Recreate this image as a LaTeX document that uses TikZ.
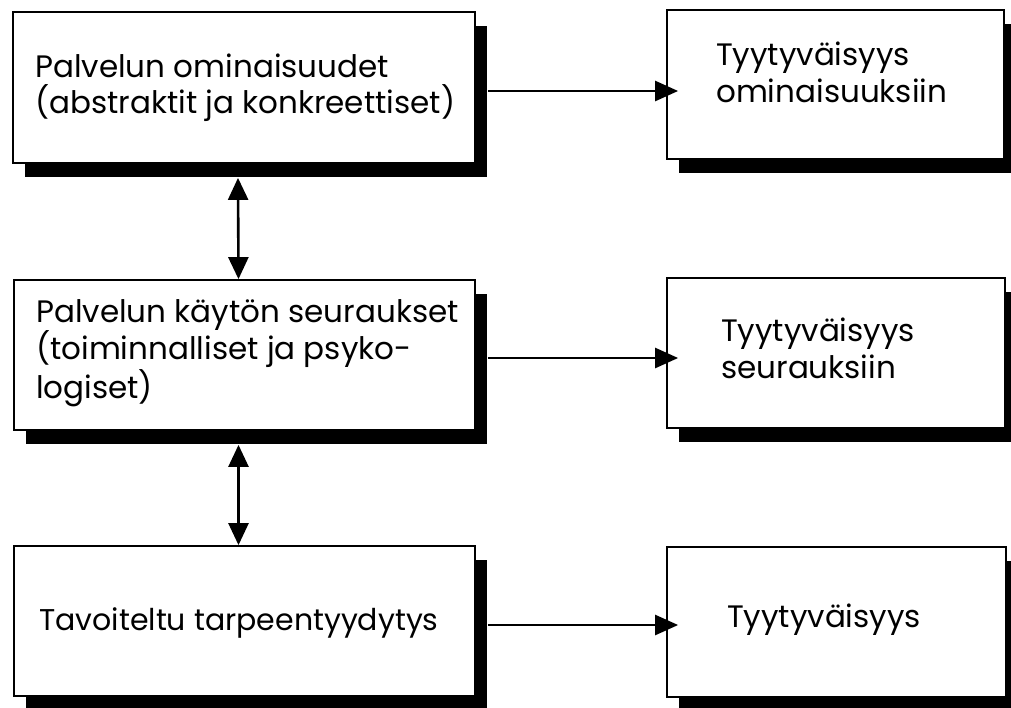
\documentclass[tikz,border=0pt]{standalone}
\usepackage{fontspec}
\setmainfont{Poppins}
\usetikzlibrary{arrows.meta,shadows}
\begin{document}
\begin{tikzpicture}[x=1pt,y=-1pt,
  box/.style={draw=black, line width=1.8pt, fill=white, rectangle, inner sep=0pt,
    drop shadow={shadow xshift=12pt, shadow yshift=-14pt, opacity=1, fill=black}},
  txt/.style={align=left, inner sep=0pt, anchor=base west, font=\fontsize{31}{36.5}\selectfont},
  arr/.style={line width=2.6pt, -{Triangle[length=23pt,width=20pt]}},
  darr/.style={line width=2.6pt, {Triangle[length=22pt,width=20pt]}-{Triangle[length=22pt,width=20pt]}}]
\useasboundingbox (0,0) rectangle (1011,707);
\fill[white] (0,0) rectangle (1011,707);
% boxes
\node[box, minimum width=462pt, minimum height=151pt] (A) at (244,87.5) {};
\node[box, minimum width=337pt, minimum height=149pt] (B) at (835.5,84.5) {};
\node[box, minimum width=461pt, minimum height=150pt] (C) at (244.5,355) {};
\node[box, minimum width=338pt, minimum height=150pt] (D) at (836,353) {};
\node[box, minimum width=461pt, minimum height=150pt] (E) at (244.5,621) {};
\node[box, minimum width=339pt, minimum height=150pt] (F) at (836.5,622) {};
% texts (anchor = baseline of the last line)
\node[txt] (At) at (35,113.5) {Palvelun ominaisuudet\\(abstraktit ja konkreettiset)};
\node[txt] (Bt) at (716,102) {Tyytyväisyys\\ominaisuuksiin};
\node[txt] (Ct) at (36,398) {Palvelun käytön seuraukset\\(toiminnalliset ja psyko-\\logiset)};
\node[txt] (Dt) at (721,378) {Tyytyväisyys\\seurauksiin};
\node[txt, font=\fontsize{30}{36}\selectfont] (Et) at (39,630) {Tavoiteltu tarpeentyydytys};
\node[txt] (Ft) at (727,627) {Tyytyväisyys};
% horizontal arrows
\draw[arr] ([shift={(12pt,-3.5pt)}]A.east) -- ([shift={(12pt,-3.5pt)}]A.east -| B.west);
\draw[arr] ([shift={(12pt,-3pt)}]C.east) -- ([shift={(12pt,-3pt)}]C.east -| D.west);
\draw[arr] ([shift={(12pt,-4pt)}]E.east) -- ([shift={(12pt,-4pt)}]E.east -| F.west);
% vertical double arrows
\draw[darr] ([shift={(-6pt,-14pt)}]A.south) -- ([xshift=-6pt]C.north);
\draw[darr] ([shift={(-6pt,-14pt)}]C.south) -- ([xshift=-6pt]E.north);
\end{tikzpicture}
\end{document}
